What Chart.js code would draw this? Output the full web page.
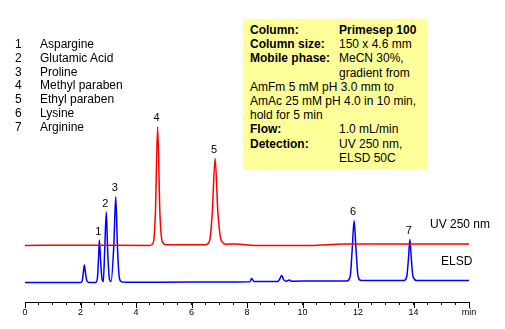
<!DOCTYPE html>
<html>
<head>
<meta charset="utf-8">
<script src="https://cdn.jsdelivr.net/npm/chart.js@4"></script>
<style>
  body { margin: 0; background: #fff; }
  #wrap { position: relative; width: 505px; height: 329px; font-family: Arial, "Liberation Sans", sans-serif; font-size: 12px; color: #000; }
  #wrap canvas { position: absolute; left: 0; top: 0; }
  .abs { position: absolute; white-space: nowrap; line-height: 14px; }
  #info { position: absolute; left: 243px; top: 19px; width: 184px; height: 151px; background: #ffff99; }
  #info b { font-weight: bold; }
</style>
</head>
<body>
<div id="wrap">
  <canvas id="chrom" width="505" height="329"></canvas>
  <div id="legend"></div>
  <div id="info"></div>
  <div class="abs" style="left:430px; top:217px;">UV 250 nm</div>
  <div class="abs" style="left:441px; top:254px;">ELSD</div>
</div>
<script>
// compound list (peak number -> name)
const compounds = ['Aspargine', 'Glutamic Acid', 'Proline', 'Methyl paraben', 'Ethyl paraben', 'Lysine', 'Arginine'];

// ELSD trace (blue), time in min / detector response
const elsdTime = [0, 1.0, 2.0, 2.06, 2.10, 2.14, 2.18, 2.23, 2.30, 2.55, 2.61, 2.65, 2.68, 2.72, 2.77, 2.82, 2.87, 2.93, 2.98, 3.05, 3.10, 3.20, 3.27, 3.33, 3.40, 3.47, 3.6, 5.0, 7.0, 8.1, 8.17, 8.25, 9.1, 9.18, 9.25, 9.32, 9.42, 9.52, 9.6, 10.5, 11.6, 11.72, 11.79, 11.86, 11.93, 12.0, 12.12, 13.0, 13.65, 13.76, 13.82, 13.87, 13.92, 13.98, 14.1, 16];
const elsdSignal = [9.8, 9.8, 9.8, 10.5, 14.5, 18.5, 14.5, 10.6, 9.8, 9.8, 12, 22, 31, 22, 12, 10.2, 25, 45, 25, 11, 10.2, 28, 52.6, 28, 12, 10.2, 9.9, 9.9, 10, 10.1, 11.8, 10.2, 10.3, 11.5, 13.3, 11.2, 10.4, 11, 10.4, 10.5, 10.5, 13, 26, 40.6, 26, 13, 10.7, 10.7, 10.7, 13, 22, 31.3, 22, 13, 10.8, 10.8];

// UV 250 nm trace (red)
const uvTime = [0, 2.0, 4.5, 4.62, 4.70, 4.78, 4.86, 4.95, 5.1, 6.5, 6.65, 6.75, 6.85, 6.95, 7.07, 7.25, 7.6, 8.3, 10.3, 11.5, 16];
const uvSignal = [28.3, 28.4, 28.3, 29.5, 45, 87.6, 45, 30, 28.6, 28.6, 30.5, 45, 71.8, 45, 31, 28.9, 29, 28.2, 28.2, 29, 29];

// peak labels: number, retention time, trace
const peakNums = ['1', '2', '3', '4', '5', '6', '7'];
const peakTimes = [2.68, 2.93, 3.27, 4.78, 6.85, 11.86, 13.87];
const peakTrace = ['elsd', 'elsd', 'elsd', 'uv', 'uv', 'elsd', 'elsd'];

// method conditions box
const infoRows = [
    ['Column:', 'Primesep 100', true],
    ['Column size:', '150 x 4.6 mm'],
    ['Mobile phase:', 'MeCN 30%,'],
    ['', 'gradient from'],
    ['AmFm 5 mM pH 3.0 mm to'],
    ['AmAc 25 mM pH 4.0 in 10 min,'],
    ['hold for 5 min'],
    ['Flow:', '1.0 mL/min'],
    ['Detection:', 'UV 250 nm,'],
    ['', 'ELSD 50C']
];

// build legend list
const legend = document.getElementById('legend');
compounds.forEach((name, i) => {
    legend.innerHTML += `<div class="abs" style="left:15px; top:${37 + i * 13.8}px;">${i + 1}</div>` +
        `<div class="abs" style="left:40px; top:${37 + i * 13.8}px;">${name}</div>`;
});

// build info box
const info = document.getElementById('info');
infoRows.forEach((r, i) => {
    const top = 4 + i * 14.2;
    if (r.length === 1) {
        info.innerHTML += `<div class="abs" style="left:7px; top:${top}px;">${r[0]}</div>`;
    } else {
        if (r[0]) info.innerHTML += `<div class="abs" style="left:7px; top:${top}px;"><b>${r[0]}</b></div>`;
        const v = r[2] ? `<b>${r[1]}</b>` : r[1];
        info.innerHTML += `<div class="abs" style="left:96px; top:${top}px;">${v}</div>`;
    }
});

const toPts = (xs, ys) => xs.map((x, i) => ({ x: x, y: ys[i] }));

// longer ticks at even minutes + peak numbers
const extras = {
    id: 'extras',
    afterDraw(chart) {
        const ctx = chart.ctx;
        const xs = chart.scales.x, ys = chart.scales.y;
        ctx.save();
        ctx.strokeStyle = '#000';
        ctx.lineWidth = 1;
        for (let v = 0; v <= 16; v += 2) {
            const px = Math.round(xs.getPixelForValue(v)) + 0.5;
            ctx.beginPath();
            ctx.moveTo(px, xs.top);
            ctx.lineTo(px, xs.top + 6);
            ctx.stroke();
        }
        ctx.fillStyle = '#000';
        ctx.font = '11px Arial, "Liberation Sans", sans-serif';
        ctx.textAlign = 'center';
        ctx.textBaseline = 'bottom';
        peakNums.forEach((n, i) => {
            const t = peakTimes[i];
            const times = peakTrace[i] === 'uv' ? uvTime : elsdTime;
            const vals = peakTrace[i] === 'uv' ? uvSignal : elsdSignal;
            const val = vals[times.indexOf(t)];
            ctx.fillText(n, xs.getPixelForValue(t) - 1, ys.getPixelForValue(val) - 3);
        });
        ctx.restore();
    }
};

new Chart(document.getElementById('chrom'), {
    type: 'line',
    data: {
        datasets: [
            {
                label: 'UV 250 nm',
                data: toPts(uvTime, uvSignal),
                borderColor: '#ff0000',
                borderWidth: 1.5,
                pointRadius: 0,
                cubicInterpolationMode: 'monotone'
            },
            {
                label: 'ELSD',
                data: toPts(elsdTime, elsdSignal),
                borderColor: '#0000ff',
                borderWidth: 1.5,
                pointRadius: 0,
                cubicInterpolationMode: 'monotone'
            }
        ]
    },
    options: {
        responsive: false,
        animation: false,
        layout: { padding: { left: 25, right: 36, top: 102, bottom: 0 } },
        plugins: { legend: { display: false }, tooltip: { enabled: false } },
        scales: {
            x: {
                type: 'linear',
                min: 0,
                max: 16,
                afterFit: (scale) => { scale.height = 27; },
                border: { color: '#000', width: 1 },
                grid: { drawOnChartArea: false, tickLength: 3, color: '#000' },
                ticks: {
                    stepSize: 0.5,
                    autoSkip: false,
                    maxRotation: 0,
                    padding: 2,
                    color: '#000',
                    font: { family: 'Arial, "Liberation Sans", sans-serif', size: 9 },
                    callback: (v) => (v % 2 === 0 ? (v === 16 ? 'min' : String(v)) : '')
                }
            },
            y: { display: false, min: 0, max: 100 }
        }
    },
    plugins: [extras]
});
</script>
</body>
</html>
